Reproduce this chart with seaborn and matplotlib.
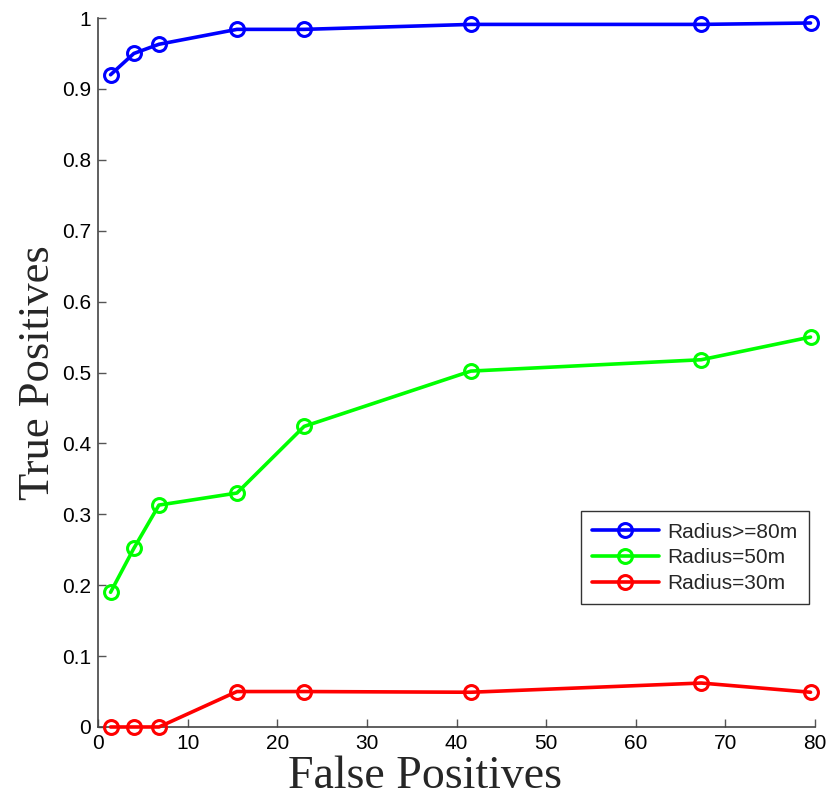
import matplotlib
matplotlib.use("Agg")
import matplotlib.pyplot as plt
import seaborn as sns
import pandas as pd

false_positives = [1.4, 4.0, 6.8, 15.5, 23.0, 41.6, 67.3, 79.5]
tp_r80 = [0.920, 0.950, 0.963, 0.984, 0.984, 0.991, 0.991, 0.993]
tp_r50 = [0.190, 0.252, 0.313, 0.330, 0.424, 0.502, 0.518, 0.550]
tp_r30 = [0.000, 0.000, 0.000, 0.050, 0.050, 0.049, 0.062, 0.049]
series_names = ["Radius>=80m", "Radius=50m", "Radius=30m"]
series_colors = ["#0000ff", "#00ff00", "#ff0000"]

rows = []
for name, vals in zip(series_names, [tp_r80, tp_r50, tp_r30]):
    for x, y in zip(false_positives, vals):
        rows.append({"fp": x, "tp": y, "series": name})
df = pd.DataFrame(rows)

sns.set_style("white")
plt.rcParams["font.family"] = ["Liberation Sans", "DejaVu Sans"]

fig = plt.figure(figsize=(8.27, 8.01), dpi=100)
ax = fig.add_axes([0.1185, 0.0924, 0.867, 0.8851])

sns.lineplot(data=df, x="fp", y="tp", hue="series", hue_order=series_names,
             palette=dict(zip(series_names, series_colors)), ax=ax,
             marker="o", markersize=10, markerfacecolor="none",
             markeredgewidth=2.2, linewidth=2.6, sort=False, estimator=None,
             legend=False)
lines = list(ax.lines)
for line, c in zip(lines, series_colors):
    line.set_markeredgecolor(c)
    line.set_clip_on(False)
    line.set_zorder(5)

ax.set_xlim(0, 80)
ax.set_ylim(0, 1)
ax.set_xticks(range(0, 81, 10))
ax.set_yticks([i / 10 for i in range(11)])
ax.set_yticklabels(["0", "0.1", "0.2", "0.3", "0.4", "0.5", "0.6", "0.7", "0.8", "0.9", "1"])
ax.tick_params(direction="in", length=6, width=1, color="#555555",
               labelsize=15, labelcolor="black", bottom=True, left=True,
               top=False, right=False, pad=5)
for s in ["top", "right"]:
    ax.spines[s].set_visible(False)
for s in ["left", "bottom"]:
    ax.spines[s].set_color("#444444")
    ax.spines[s].set_linewidth(1.2)

ax.set_xlabel("False Positives", fontsize=33, family=["Liberation Serif"])
ax.xaxis.set_label_coords(0.456, -0.0865)
ax.xaxis.label.set_va("baseline")
ax.set_ylabel("True Positives", fontsize=32, family=["Liberation Serif"], labelpad=3)

leg = ax.legend(lines[:3], series_names, loc="lower right", bbox_to_anchor=(0.997, 0.167),
                fontsize=15, frameon=True, fancybox=False, edgecolor="black",
                handlelength=3.2, borderpad=0.55, labelspacing=0.32, handletextpad=0.4,
                borderaxespad=0.2)
leg.get_frame().set_linewidth(1.0)

fig.savefig("out.png", dpi=100)
